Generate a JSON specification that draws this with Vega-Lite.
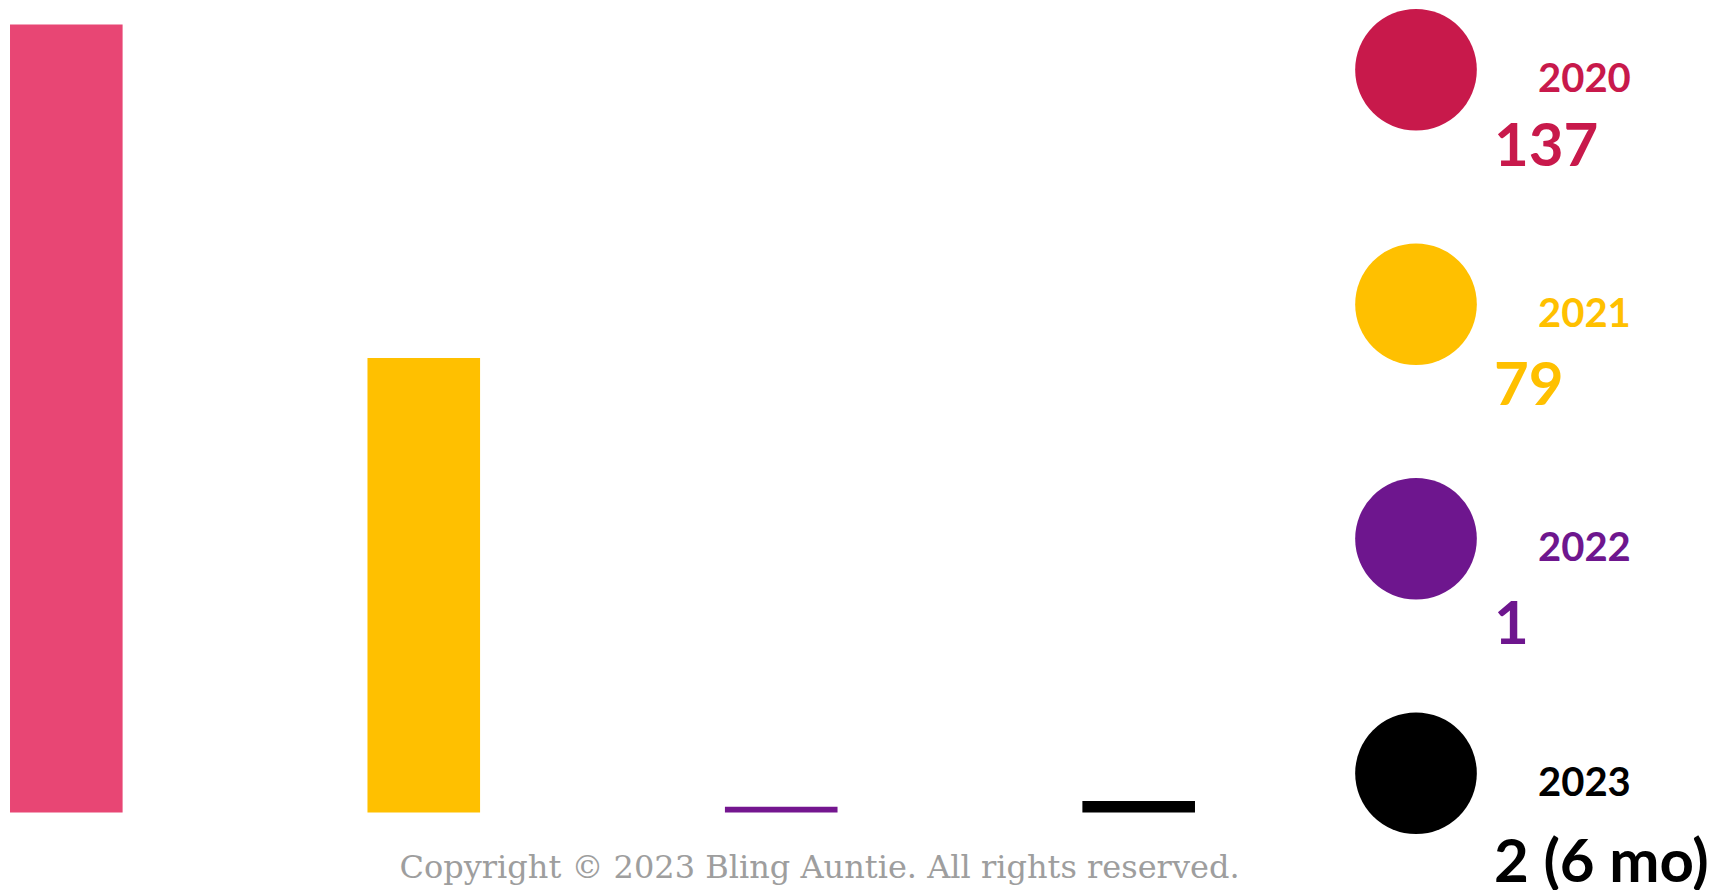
{
  "$schema": "https://vega.github.io/schema/vega-lite/v6.json",
  "padding": {"left": 0, "top": 8.5, "right": 0, "bottom": 0},
  "background": "white",
  "bounds": "flush",
  "config": {"view": {"stroke": null}, "font": "Lato"},
  "data": {
    "values": [
      {"year": "2020", "count": 137, "display": "137"},
      {"year": "2021", "count": 79, "display": "79"},
      {"year": "2022", "count": 1, "display": "1"},
      {"year": "2023", "count": 2, "display": "2 (6 mo)"}
    ]
  },
  "spacing": 91,
  "hconcat": [
    {
      "width": 1205,
      "height": 788,
      "mark": {"type": "bar"},
      "encoding": {
        "x": {
          "field": "year",
          "type": "nominal",
          "sort": null,
          "scale": {"paddingInner": 0.685, "paddingOuter": 0.028},
          "axis": {
            "title": "Copyright © 2023 Bling Auntie. All rights reserved.",
            "labels": false,
            "ticks": false,
            "domain": false,
            "grid": false,
            "titleFont": "DejaVu Serif",
            "titleFontSize": 32,
            "titleFontWeight": "normal",
            "titleColor": "#9e9e9e",
            "titleX": 819,
            "titleY": 65,
            "titleBaseline": "alphabetic",
            "titleAlign": "center"
          }
        },
        "y": {
          "field": "count",
          "type": "quantitative",
          "scale": {"domain": [0, 137], "nice": false},
          "axis": null
        },
        "color": {
          "field": "year",
          "type": "nominal",
          "scale": {"domain": ["2020", "2021", "2022", "2023"], "range": ["#E84674", "#FFC000", "#74168F", "#000000"]},
          "legend": null
        }
      }
    },
    {
      "width": 240,
      "height": 794,
      "layer": [
        {
          "mark": {"type": "circle", "size": 14800, "opacity": 1},
          "encoding": {
            "y": {"field": "year", "type": "ordinal", "scale": {"type": "point", "padding": 0.193}, "axis": null},
            "color": {
              "field": "year",
              "type": "nominal",
              "scale": {"domain": ["2020", "2021", "2022", "2023"], "range": ["#C8194B", "#FFC000", "#6E168E", "#000000"]},
              "legend": null
            }
          }
        },
        {
          "mark": {"type": "text", "align": "left", "baseline": "alphabetic", "dx": 122, "dy": 22.5, "fontSize": 40, "fontWeight": "bold", "font": "Lato"},
          "encoding": {
            "y": {"field": "year", "type": "ordinal", "scale": {"type": "point", "padding": 0.193}, "axis": null},
            "text": {"field": "year"},
            "color": {
              "field": "year",
              "type": "nominal",
              "scale": {"domain": ["2020", "2021", "2022", "2023"], "range": ["#C8194B", "#FFC000", "#6E168E", "#000000"]},
              "legend": null
            }
          }
        },
        {
          "mark": {"type": "text", "align": "left", "baseline": "alphabetic", "dx": 78, "dy": 102.8, "fontSize": 60, "fontWeight": "bold", "font": "Lato"},
          "encoding": {
            "y": {"field": "year", "type": "ordinal", "scale": {"type": "point", "padding": 0.163}, "axis": null},
            "text": {"field": "display"},
            "color": {
              "field": "year",
              "type": "nominal",
              "scale": {"domain": ["2020", "2021", "2022", "2023"], "range": ["#C8194B", "#FFC000", "#6E168E", "#000000"]},
              "legend": null
            }
          }
        }
      ],
      "resolve": {"scale": {"y": "independent"}}
    }
  ],
  "resolve": {"scale": {"color": "independent"}}
}
